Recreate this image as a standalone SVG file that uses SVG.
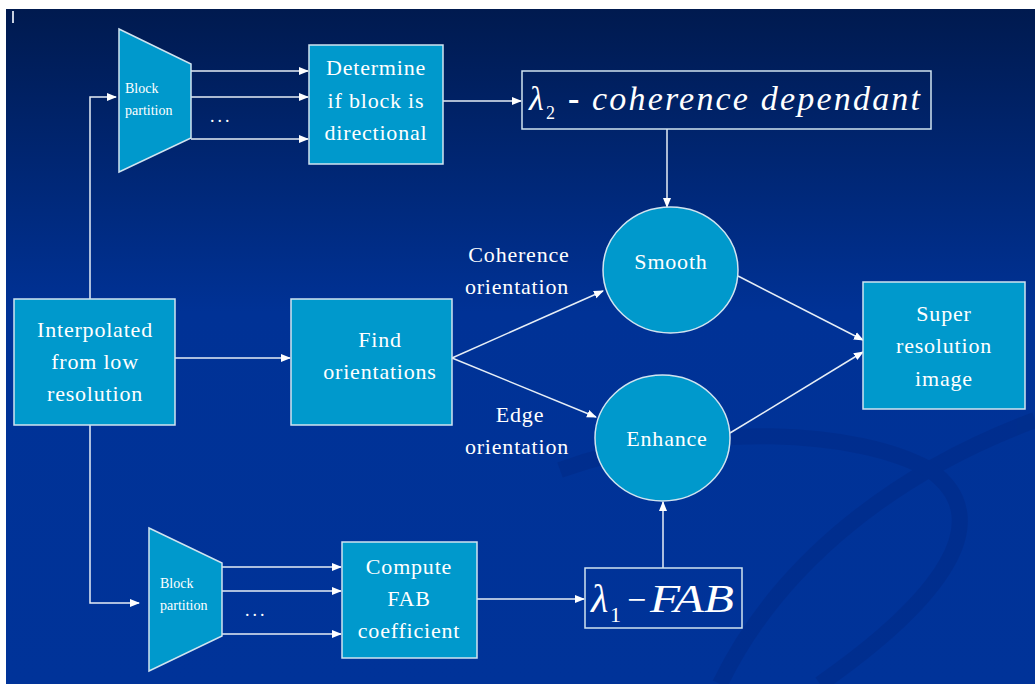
<svg xmlns="http://www.w3.org/2000/svg" width="1035" height="684" viewBox="0 0 1035 684">
<defs>
<linearGradient id="bg" x1="0" y1="0" x2="0" y2="1">
<stop offset="0" stop-color="#001a4f"/>
<stop offset="0.45" stop-color="#003296"/>
<stop offset="1" stop-color="#003399"/>
</linearGradient>
<marker id="ah" viewBox="0 0 10 10" refX="9" refY="5" markerWidth="10" markerHeight="10" markerUnits="userSpaceOnUse" orient="auto">
<path d="M0,1 L10,5 L0,9 z" fill="#ffffff"/>
</marker>
<style>
.box{fill:#0099cc;stroke:#d0e4f0;stroke-width:1.5}
.obox{fill:none;stroke:#d0e4f0;stroke-width:1.5}
.t{font-family:"Liberation Serif",serif;fill:#ffffff;text-anchor:middle;font-size:22px;letter-spacing:0.8px}
.s{font-family:"Liberation Serif",serif;fill:#ffffff;font-size:14px}
.d{font-family:"Liberation Serif",serif;fill:#ffffff;font-size:18px;letter-spacing:3px}
.c{fill:none;stroke:#e6eef6;stroke-width:1.5}
.ca{fill:none;stroke:#e6eef6;stroke-width:1.5;marker-end:url(#ah)}
.m{font-family:"Liberation Serif",serif;fill:#ffffff;font-style:italic}
</style>
</defs>
<rect x="0" y="0" width="1035" height="684" fill="#ffffff"/>
<rect x="6" y="9" width="1029" height="675" fill="url(#bg)"/>
<g opacity="0.18" fill="none" stroke="#001a66" stroke-width="16">
<path d="M1035,420 C900,470 780,560 720,684"/>
<path d="M560,470 C700,420 860,430 930,470 C1000,520 940,600 820,684"/>
</g>
<line x1="13" y1="11" x2="13" y2="23" stroke="#c8d0e0" stroke-width="2"/>

<g id="connectors">
<path class="ca" d="M90,299 V97 H116"/>
<path class="ca" d="M90,425 V603 H139"/>
<line class="ca" x1="191" y1="71" x2="308" y2="71"/>
<line class="ca" x1="191" y1="97" x2="308" y2="97"/>
<line class="ca" x1="191" y1="139" x2="308" y2="139"/>
<line class="ca" x1="443" y1="101" x2="521" y2="101"/>
<line class="ca" x1="667" y1="129" x2="667" y2="207"/>
<line class="ca" x1="175" y1="358" x2="290" y2="358"/>
<line class="ca" x1="452" y1="358" x2="603" y2="291"/>
<line class="ca" x1="452" y1="358" x2="596" y2="417"/>
<line class="ca" x1="738" y1="276" x2="863" y2="340"/>
<line class="ca" x1="730" y1="433" x2="863" y2="352"/>
<line class="ca" x1="222" y1="567" x2="341" y2="567"/>
<line class="ca" x1="222" y1="591" x2="341" y2="591"/>
<line class="ca" x1="222" y1="634" x2="341" y2="634"/>
<line class="ca" x1="477" y1="599" x2="584" y2="599"/>
<line class="ca" x1="663" y1="568" x2="663" y2="502"/>
</g>

<g id="labels">
<text class="t" x="519" y="262">Coherence</text>
<text class="t" x="517" y="294">orientation</text>
<text class="t" x="520" y="422">Edge</text>
<text class="t" x="517" y="454">orientation</text>
</g>

<g id="partition-top">
<polygon class="box" points="119,29 191,64 191,138 119,172"/>
<text class="s" x="125" y="93">Block</text>
<text class="s" x="125" y="115">partition</text>
<text class="d" x="210" y="122">...</text>
</g>

<g id="determine">
<rect class="box" x="309" y="45" width="134" height="119"/>
<text class="t" x="376" y="75">Determine</text>
<text class="t" x="376" y="108">if block is</text>
<text class="t" x="376" y="140">directional</text>
</g>

<g id="lambda2">
<rect class="obox" x="522" y="71" width="409" height="58"/>
<text class="m" x="529" y="110" font-size="34">λ</text>
<text x="546" y="119" font-family="Liberation Serif,serif" font-size="18" fill="#fff">2</text>
<text x="568" y="110" font-family="Liberation Serif,serif" font-size="34" fill="#fff" font-weight="bold">-</text>
<text class="m" x="592" y="110" font-size="34" textLength="328" lengthAdjust="spacing">coherence dependant</text>
</g>

<g id="smooth">
<ellipse class="box" cx="670.5" cy="270" rx="67.5" ry="63"/>
<text class="t" x="671" y="269">Smooth</text>
</g>

<g id="enhance">
<ellipse class="box" cx="662.5" cy="438" rx="67.5" ry="63"/>
<text class="t" x="667" y="446">Enhance</text>
</g>

<g id="super">
<rect class="box" x="863" y="282" width="162" height="127"/>
<text class="t" x="944" y="321">Super</text>
<text class="t" x="944" y="353">resolution</text>
<text class="t" x="944" y="386">image</text>
</g>

<g id="interpolated">
<rect class="box" x="14" y="299" width="161" height="126"/>
<text class="t" x="95" y="337">Interpolated</text>
<text class="t" x="95" y="369">from low</text>
<text class="t" x="95" y="401">resolution</text>
</g>

<g id="find">
<rect class="box" x="291" y="299" width="161" height="126"/>
<text class="t" x="380" y="347">Find</text>
<text class="t" x="380" y="379">orientations</text>
</g>

<g id="partition-bottom">
<polygon class="box" points="149,528 222,563 222,636 149,671"/>
<text class="s" x="160" y="588">Block</text>
<text class="s" x="160" y="610">partition</text>
<text class="d" x="245" y="616">...</text>
</g>

<g id="compute">
<rect class="box" x="342" y="542" width="135" height="116"/>
<text class="t" x="409" y="574">Compute</text>
<text class="t" x="409" y="606">FAB</text>
<text class="t" x="409" y="638">coefficient</text>
</g>

<g id="lambda1">
<rect class="obox" x="585" y="568" width="157" height="60"/>
<text class="m" x="591" y="612" font-size="40">λ</text>
<text x="610" y="622" font-family="Liberation Serif,serif" font-size="22" fill="#fff">1</text>
<text x="627" y="611" font-family="Liberation Serif,serif" font-size="34" fill="#fff">−</text>
<text class="m" x="650" y="612" font-size="40" textLength="84" lengthAdjust="spacingAndGlyphs">FAB</text>
</g>
</svg>
